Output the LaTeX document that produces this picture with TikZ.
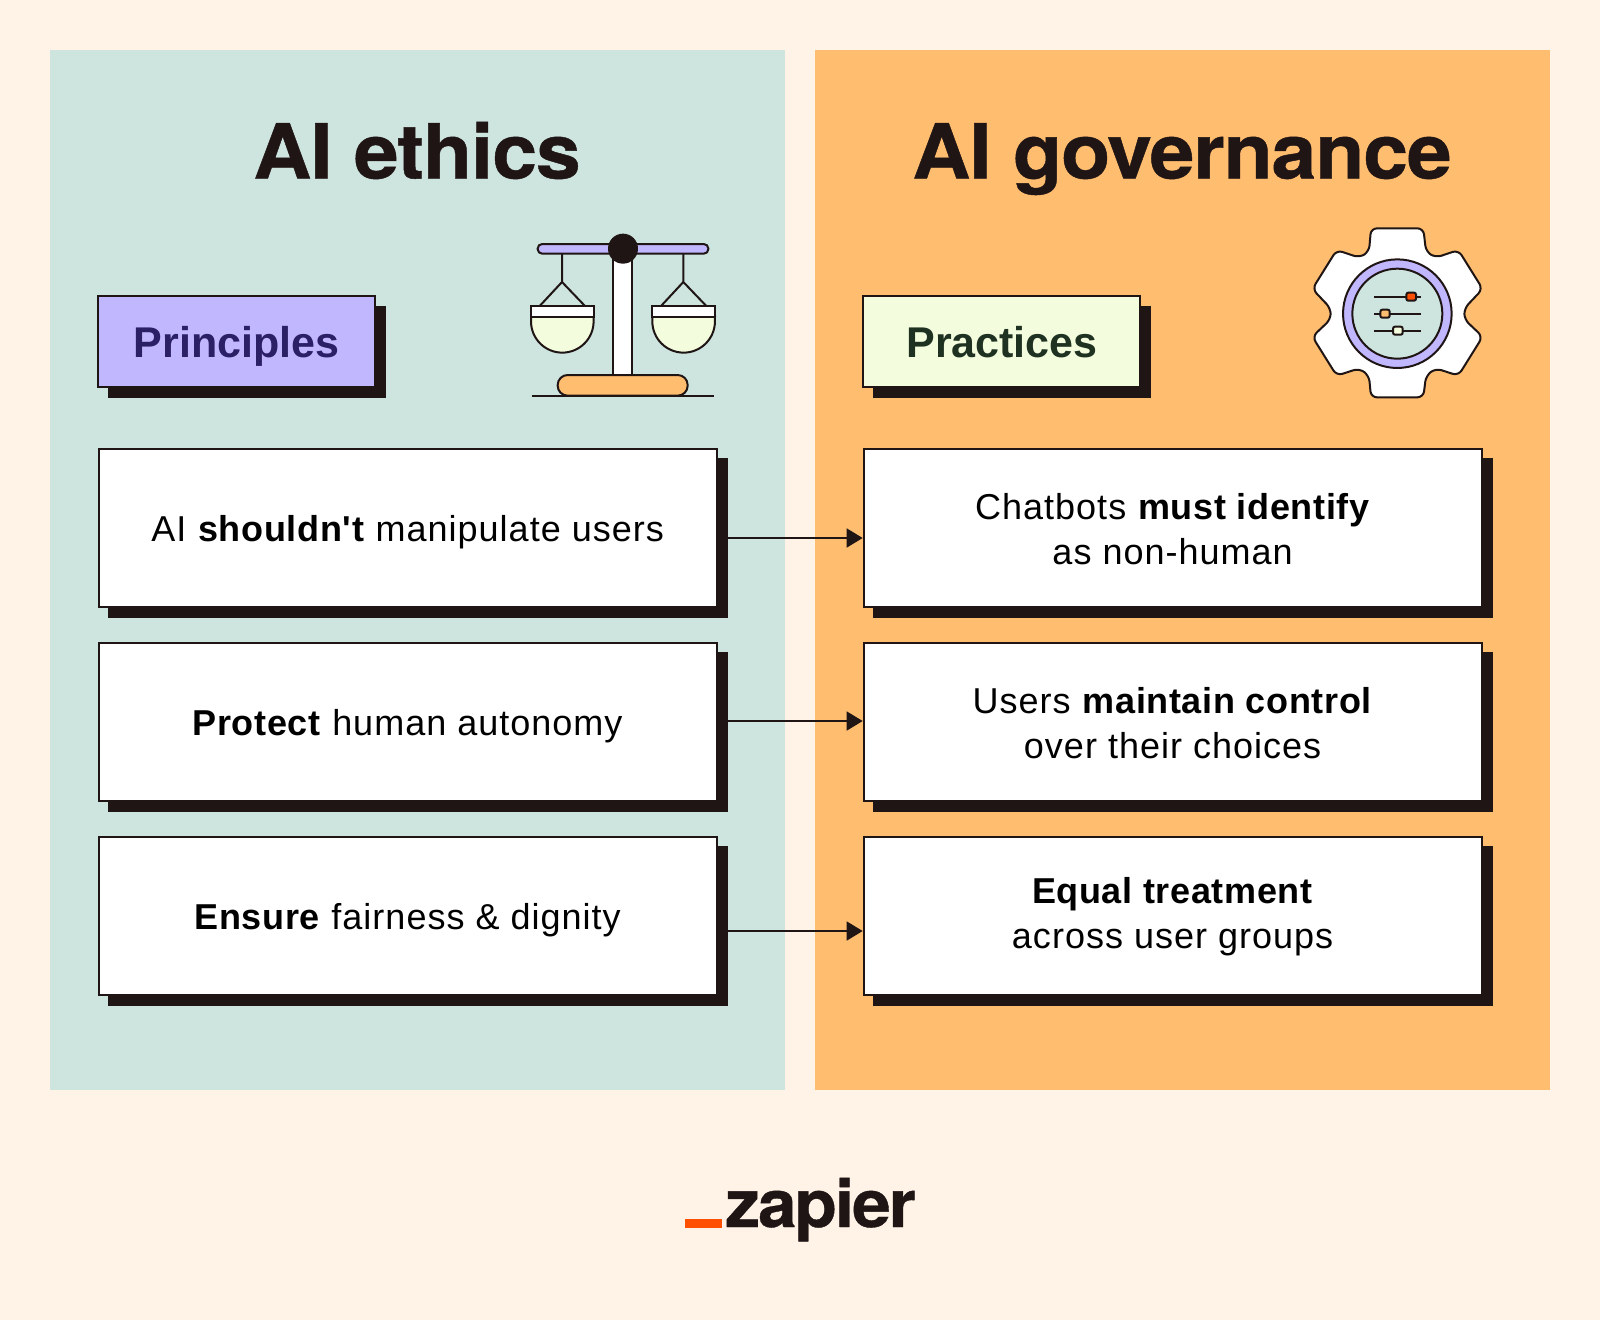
\documentclass[tikz,border=0pt]{standalone}
\usepackage{fontspec}
\newfontfamily\bodyfont[LetterSpace=2.8,BoldFeatures={LetterSpace=1.8}]{Liberation Sans}
\newfontfamily\ttlfont[FakeStretch=1.06,LetterSpace=-1.5,BoldFeatures={FakeBold=0.6,FakeStretch=1.06,LetterSpace=-1.5}]{TeX Gyre Heros}
\newfontfamily\logofont[LetterSpace=-3.0,BoldFeatures={FakeBold=0.6,FakeStretch=1.05,LetterSpace=-3.0}]{TeX Gyre Heros}
\newfontfamily\lblfont{Liberation Sans}
\usetikzlibrary{arrows.meta}
\definecolor{bgc}{HTML}{FFF3E7}
\definecolor{teal}{HTML}{CDE4DF}
\definecolor{orng}{HTML}{FFBD6F}
\definecolor{purp}{HTML}{C1B7FF}
\definecolor{ink}{HTML}{201515}
\definecolor{lime}{HTML}{F3FCDD}
\definecolor{zorange}{HTML}{FF4F00}
\definecolor{navy}{HTML}{2B1F66}
\definecolor{forest}{HTML}{1F3121}
\tikzset{
  panel/.style={draw=none,inner sep=0,minimum width=735pt,minimum height=1040pt},
  shadowbox/.style={fill=ink,draw=none,inner sep=0,minimum width=620pt,minimum height=160pt},
  cardbox/.style={fill=white,draw=ink,line width=1.8pt,inner sep=0,minimum width=618pt,minimum height=158pt},
  cardtext/.style={inner sep=0,align=center,text=black,font=\bodyfont\fontsize{36}{45}\selectfont},
  tagshadow/.style={fill=ink,draw=none,inner sep=0,minimum width=278pt,minimum height=92pt},
  tagbox/.style={draw=ink,line width=1.8pt,inner sep=0,minimum width=277pt,minimum height=91pt},
  tagtext/.style={anchor=base,inner sep=0,font=\lblfont\bfseries\fontsize{43}{50}\selectfont},
  titletext/.style={anchor=base,inner sep=0,text=ink,font=\ttlfont\bfseries\fontsize{76}{80}\selectfont},
  link/.style={draw=ink,line width=1.5pt,-{Triangle[length=16pt,width=19pt]}},
  icon/.style={draw=ink,line width=2pt},
}
\begin{document}
\begin{tikzpicture}[x=1pt,y=-1pt]
\useasboundingbox (0,0) rectangle (1600,1320);
\fill[bgc] (0,0) rectangle (1600,1320);
\node[panel,fill=teal] (panelL) at (417.5,570) {};
\node[panel,fill=orng] (panelR) at (1182.5,570) {};
\node[titletext] (titleL) at (417,178.5) {AI ethics};
\node[titletext] (titleR) at (1182,178.5) {AI governance};
% tags
\node[tagshadow] (tagLs) at (247,351.5) {};
\node[tagbox,fill=purp] (tagL) at (236.5,341.5) {};
\node[tagtext,text=navy] (tagLt) at (236.5,357) {Principles};
\node[tagshadow] (tagRs) at (1012,351.5) {};
\node[tagbox,fill=lime] (tagR) at (1001.5,341.5) {};
\node[tagtext,text=forest] (tagRt) at (1002,357) {Practices};
% cards
\foreach \n/\y in {1/528,2/722,3/916}{
  \node[shadowbox] (sL\n) at (417.5,\y+10) {};
  \node[shadowbox] (sR\n) at (1182.5,\y+10) {};
  \node[cardbox] (L\n) at (407.6,\y) {};
  \node[cardbox] (R\n) at (1172.6,\y) {};
}
\node[cardtext] (L1t) at (407.6,532.5) {AI \textbf{shouldn't} manipulate users};
\node[cardtext] (L2t) at (407.6,726.5) {\textbf{Protect} human autonomy};
\node[cardtext] (L3t) at (407.6,920.5) {\textbf{Ensure} fairness \& dignity};
\node[cardtext] (R1t) at (1172.6,529) {Chatbots \textbf{must identify}\\as non-human};
\node[cardtext] (R2t) at (1172.6,723) {Users \textbf{maintain control}\\over their choices};
\node[cardtext] (R3t) at (1172.6,917) {\textbf{Equal treatment}\\across user groups};
% connectors
\draw[link] ([yshift=0pt]sL1.east) -- ([yshift=-10pt]R1.west);
\draw[link] ([yshift=11pt]sL2.east) -- ([yshift=1pt]R2.west);
\draw[link] ([yshift=-5pt]sL3.east) -- ([yshift=-15pt]R3.west);
% scales icon
\begin{scope}[shift={(500,210)},x=0.33333pt,y=-0.33333pt]
  \draw[icon,fill=white] (340,120) rectangle (397,495);
  \draw[icon,fill=purp,rounded corners=4.5pt] (113,102) rectangle (625,131);
  \fill[ink] (369,116) circle (15pt);
  \draw[icon,fill=orng,rounded corners=10pt] (173,557) -- (173,495) -- (563,495) -- (563,557) -- cycle;
  \draw[icon] (95,557) -- (642,557);
  \foreach \c in {186,550}{
    \begin{scope}[xshift={(\c-186)*0.33333pt}]
      \draw[icon,line join=round] (186,132) -- (186,216) (120,287) -- (186,216) -- (254,287);
      \draw[icon,fill=lime] (93,320) -- (93,334) arc[start angle=180,end angle=360,radius=31.3pt] -- (281,320) -- cycle;
      \draw[icon,fill=white] (93,287) rectangle (281,320);
    \end{scope}
  }
\end{scope}
% gear icon
\begin{scope}[shift={(1290,210)},x=0.33333pt,y=-0.33333pt]
  \draw[icon,fill=white,rounded corners=6pt,line join=round]
    (243,55) -- (400,55) -- (408,125) -- (437,143) -- (505,120) -- (578,237) -- (523,295) -- (523,328)
    -- (578,380) -- (505,497) -- (437,475) -- (408,497) -- (400,562) -- (243,562) -- (237,497) -- (208,475)
    -- (140,497) -- (67,380) -- (122,328) -- (122,295) -- (67,237) -- (140,120) -- (208,143) -- (237,125) -- cycle;
  \draw[icon,fill=purp] (322,311) circle (54.3pt);
  \draw[icon,fill=teal] (322,311) circle (45pt);
  \draw[icon] (253,260) -- (392,260) (253,311) -- (392,311) (253,362) -- (392,362);
  \draw[icon,fill=zorange,rounded corners=2pt] (349,248) rectangle (378,272);
  \draw[icon,fill=orng,rounded corners=2pt] (271,299) rectangle (299,323);
  \draw[icon,fill=lime,rounded corners=2pt] (309,350) rectangle (338,374);
\end{scope}
% logo
\fill[zorange] (685,1219) rectangle (722,1228);
\node[anchor=base,inner sep=0,text=ink,font=\logofont\bfseries\fontsize{66}{66}\selectfont] (logo) at (820.5,1227) {zapier};
\end{tikzpicture}
\end{document}
